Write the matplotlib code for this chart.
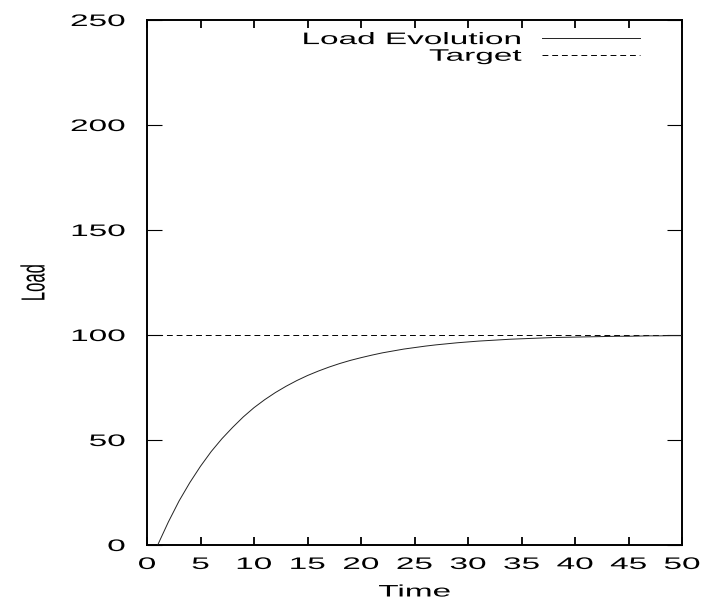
import matplotlib
matplotlib.use("Agg")
import matplotlib.pyplot as plt
from matplotlib.patheffects import AbstractPathEffect
from matplotlib.transforms import Affine2D

# load response read at each time step
time = list(range(1, 51))
load = [0, 11, 21, 29.7, 37.5, 44.5, 50.6, 56, 61, 65.4,
        69.2, 72.6, 75.6, 78.3, 80.7, 82.8, 84.7, 86.4, 87.9, 89.2,
        90.4, 91.5, 92.4, 93.3, 94.0, 94.7, 95.3, 95.8, 96.3, 96.7,
        97.1, 97.4, 97.7, 98.0, 98.2, 98.4, 98.6, 98.8, 98.9, 99.0,
        99.1, 99.2, 99.3, 99.4, 99.4, 99.5, 99.6, 99.6, 99.7, 99.7]
target = 100

x_ticks = list(range(0, 51, 5))
y_ticks = [0, 50, 100, 150, 200, 250]


class Widen(AbstractPathEffect):
    """Stretch glyphs horizontally (in display space) about an anchor."""

    def __init__(self, sx=2.0, anchor=0.5):
        super().__init__()
        self.sx = sx
        self.anchor = anchor

    def draw_path(self, renderer, gc, tpath, affine, rgbFace=None):
        ext = tpath.get_extents(affine)
        x0 = ext.x0 + self.anchor * ext.width
        aff = affine + Affine2D().translate(-x0, 0).scale(self.sx, 1).translate(x0, 0)
        renderer.draw_path(gc, tpath, aff, rgbFace)


plt.rcParams['font.family'] = ['Liberation Sans', 'DejaVu Sans']
plt.rcParams['font.size'] = 12

fig = plt.figure(figsize=(7.04, 6.05), dpi=100)
ax = fig.add_axes([147/704, 1 - 545/605, 535/704, 525/605])

ax.plot([0, 50], [target, target], color='black', lw=0.7,
        dashes=(6, 4), label='Target', zorder=2)
ax.plot(time, load, color='#222222', lw=0.7, label='Load Evolution', zorder=3)

ax.set_xlim(0, 50)
ax.set_ylim(0, 250)
ax.set_xticks(x_ticks)
ax.set_xticklabels([str(v) for v in x_ticks])
ax.set_yticks(y_ticks)
ax.set_yticklabels([str(v) for v in y_ticks])

for s in ax.spines.values():
    s.set_linewidth(1.4)
ax.tick_params(axis='x', direction='in', top=True, length=5.8, width=1.3, pad=8.6)
ax.tick_params(axis='y', direction='in', right=True, length=10.8, width=0.8, pad=15.8)

ax.set_xlabel('Time', va='center')
ax.xaxis.set_label_coords(0.5, -(592 - 545) / 525)
ax.set_ylabel('Load', va='center')
ax.yaxis.set_label_coords((34 - 147) / 535, 0.5)

# reorder so the solid curve is listed first
h, l = ax.get_legend_handles_labels()
leg = ax.legend(h[::-1], l[::-1], loc='upper right', frameon=False,
                markerfirst=False, bbox_to_anchor=((640 - 147) / 535, 0.977),
                borderpad=0, borderaxespad=0, handlelength=5.9,
                handletextpad=1.2, labelspacing=0.1)

for t in ax.get_xticklabels():
    t.set_path_effects([Widen(2.0, 0.5)])
for t in ax.get_yticklabels():
    t.set_path_effects([Widen(2.0, 1.0)])
for t in leg.get_texts():
    t.set_path_effects([Widen(2.0, 1.0)])
ax.xaxis.label.set_path_effects([Widen(2.0, 0.5)])
ax.yaxis.label.set_path_effects([Widen(2.0, 0.5)])

fig.savefig('out.png', dpi=100)
